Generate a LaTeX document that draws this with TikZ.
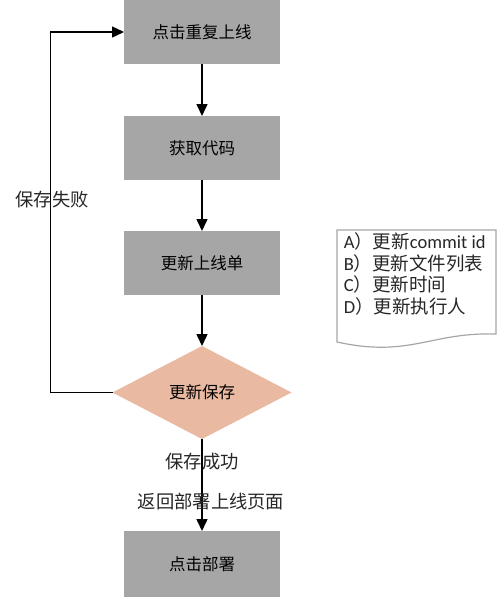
\documentclass[tikz,border=0pt]{standalone}
\usepackage{fontspec}
\setmainfont{Noto Sans CJK SC}
\newfontfamily\latin{Carlito}
\usetikzlibrary{arrows.meta,positioning,shapes.geometric}

\definecolor{boxgray}{HTML}{A6A6A6}
\definecolor{salmon}{HTML}{E9B9A1}

\begin{document}
\begin{tikzpicture}[x=1pt,y=-1pt,>={Triangle[width=11pt,length=12pt]},line width=1.5pt,
                    main node/.style={rectangle,fill=boxgray,minimum width=156pt,minimum height=64pt,
                                      outer sep=0pt,font=\fontsize{16.5}{20}\selectfont},
                    check node/.style={diamond,fill=salmon,minimum width=179pt,minimum height=93pt,
                                       inner sep=0pt,outer sep=0pt,aspect=1.9,font=\fontsize{16.5}{20}\selectfont},
                    label node/.style={font=\fontsize{18.3}{22}\selectfont,text=black!85}]
  \useasboundingbox (0,0) rectangle (497,598);
  \node[main node] (1) at (202,32) {点击重复上线};
  \node[main node] (2) [below=52pt of 1] {获取代码};
  \node[main node] (3) [below=51pt of 2] {更新上线单};
  \node[check node] (4) [below=51pt of 3] {更新保存};
  \node[main node,minimum height=66pt] (5) [below=92pt of 4] {点击部署};
  \coordinate[left=62pt of 4.west] (c);

  \path[->]
    (1) edge (2)
    (2) edge (3)
    (3) edge (4)
    (4) edge (5);
  \draw[->] (4.west) -- (c) |- (1.west);

  \node[label node] (fail) at (52,200) {保存失败};
  \node[label node] (ok) at (202,462) {保存成功};
  \node[label node] (back) at (211,502) {返回部署上线页面};

  % list of updates
  \draw[boxgray,line width=1.2pt] (337,230) -- (496,230) -- (496,334)
    .. controls (430,332) and (410,358) .. (337,342) -- cycle;
  \node[anchor=north west,align=left,inner sep=0pt,font=\fontsize{18.5}{21.5}\selectfont,text=black!85] (list) at (343,232)
    {{\latin A}）更新{\latin commit id}\\{\latin B}）更新文件列表\\{\latin C}）更新时间\\{\latin D}）更新执行人};
\end{tikzpicture}
\end{document}
